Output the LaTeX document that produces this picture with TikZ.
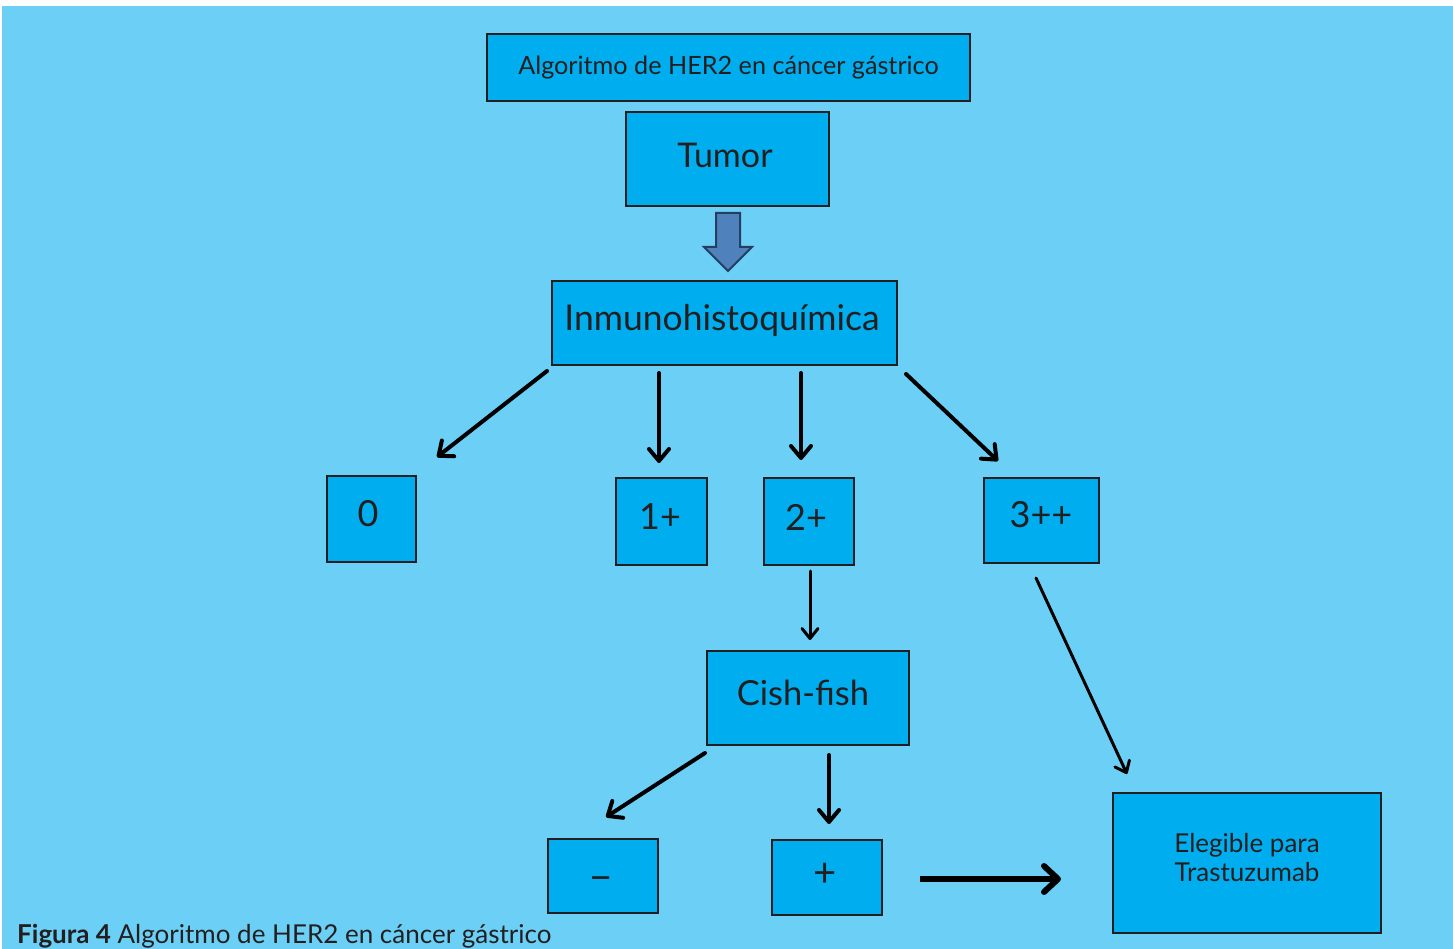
\documentclass[tikz,border=0pt]{standalone}
\usepackage{fontspec}
\setmainfont{Lato}
\usetikzlibrary{arrows.meta}
\definecolor{bgblue}{HTML}{6BCFF6}
\definecolor{boxblue}{HTML}{00AEEF}
\definecolor{ink}{HTML}{231F20}
\definecolor{barrow}{HTML}{4F81BD}
\definecolor{barrowedge}{HTML}{243F60}
\tikzset{
  box/.style={draw=ink, line width=2.5pt, fill=boxblue, text=ink, inner sep=0pt, align=center},
  conn/.style={draw=black, line width=4pt, line cap=round, -{Straight Barb[length=12pt,width=20pt,round]}},
  thinconn/.style={draw=black, line width=3pt, line cap=round, -{Straight Barb[length=10pt,width=16pt,round]}},
  thickconn/.style={draw=black, line width=6pt, -{Straight Barb[length=14pt,width=26pt,round]}},
}
\newcommand{\fs}[1]{\fontsize{#1}{#1}\selectfont}
\begin{document}
\begin{tikzpicture}[x=1pt,y=-1pt]
\useasboundingbox (0,0) rectangle (1453,949);
\fill[white] (0,0) rectangle (1453,949);
\fill[bgblue] (2,6) rectangle (1453,949);

% boxes
\node[box, minimum width=483pt, minimum height=67pt] (title) at (728.5,67.5) {\fs{25.2}Algoritmo de HER2 en cáncer gástrico};
\node[box, minimum width=203pt, minimum height=94pt] (tumor) at (727.5,159) {};
\node[text=ink, anchor=center] (tumortxt) at (725,155) {\fs{34}Tumor};
\node[box, minimum width=345pt, minimum height=84pt] (ihq) at (724.5,323) {};
\node[text=ink] (ihqtxt) at (722,320) {\fs{35.5}Inmunohistoquímica};
\node[box, minimum width=89pt, minimum height=86pt] (b0) at (371.5,519) {};
\node[text=ink] (b0t) at (368,514) {\fs{36}0};
\node[box, minimum width=91pt, minimum height=87pt] (b1) at (661.5,521.5) {};
\node[text=ink] (b1t) at (660,517) {\fs{36}1+};
\node[box, minimum width=90pt, minimum height=87pt] (b2) at (809,521.5) {};
\node[text=ink] (b2t) at (806,517) {\fs{36}2+};
\node[box, minimum width=115pt, minimum height=85pt] (b3) at (1041.5,520.5) {};
\node[text=ink] (b3t) at (1041,515) {\fs{36}3++};
\node[box, minimum width=202pt, minimum height=94pt] (cish) at (808,698) {};
\node[text=ink] (cisht) at (803,693) {\fs{34.5}Cish-fish};
\node[box, minimum width=110pt, minimum height=74pt] (neg) at (603,876) {};
\node[text=ink] (negt) at (601,884) {\fs{40}−};
\node[box, minimum width=110pt, minimum height=75pt] (pos) at (827,877.5) {};
\node[text=ink] (post) at (825,875) {\fs{40}+};
\node[box, minimum width=268pt, minimum height=140pt] (eleg) at (1247,863) {};
\node[text=ink, align=center, font=\fontsize{26}{29}\selectfont] (elegt) at (1247,858) {Elegible para\\Trastuzumab};

% block arrow Tumor -> IHQ
\draw[barrowedge, line width=2pt, fill=barrow, line join=miter]
  (716,213) -- (740,213) -- (740,247) -- (752,247) -- (728,271) -- (704,247) -- (716,247) -- cycle;

% connector end points
\coordinate (a0s) at (547,371);  \coordinate (a0e) at (437,457);
\coordinate (a1s) at (659,373);  \coordinate (a1e) at (659,463);
\coordinate (a2s) at (801,373);  \coordinate (a2e) at (801,460);
\coordinate (a3s) at (906,374);  \coordinate (a3e) at (998,461);
\coordinate (a4s) at (810,571);  \coordinate (a4e) at (810,640);
\coordinate (a5s) at (1036,578); \coordinate (a5e) at (1127,774);
\coordinate (a6s) at (705,753);  \coordinate (a6e) at (606,817);
\coordinate (a7s) at (829,755);  \coordinate (a7e) at (829,824);
\coordinate (a8s) at (920,879);  \coordinate (a8e) at (1061,879);

\draw[conn] (a0s) -- (a0e);
\draw[conn] (a1s) -- (a1e);
\draw[conn] (a2s) -- (a2e);
\draw[conn] (a3s) -- (a3e);
\draw[thinconn] (a4s) -- (a4e);
\draw[thinconn] (a5s) -- (a5e);
\draw[conn] (a6s) -- (a6e);
\draw[conn] (a7s) -- (a7e);
\draw[thickconn] (a8s) -- (a8e);

% caption
\node[anchor=base west, text=ink, inner sep=0pt] (caption) at (17,943) {\fs{26}\textbf{Figura 4} Algoritmo de HER2 en cáncer gástrico};
\end{tikzpicture}
\end{document}
